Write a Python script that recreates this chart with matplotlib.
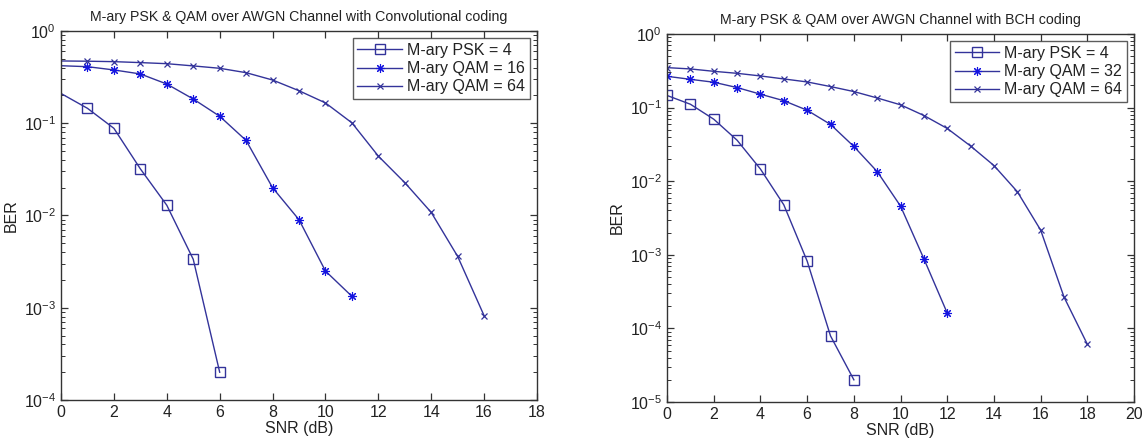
import numpy as np
import matplotlib
matplotlib.use("Agg")
import matplotlib.pyplot as plt
from matplotlib.ticker import LogLocator, NullFormatter, MultipleLocator

plt.rcParams['font.family'] = ['Liberation Sans', 'DejaVu Sans']
plt.rcParams['mathtext.fontset'] = 'custom'
plt.rcParams['mathtext.rm'] = 'Liberation Sans'

# convolutional coding
snr_conv_psk = [0, 1, 2, 3, 4, 5, 6]
ber_conv_psk = [0.21, 0.145, 0.088, 0.032, 0.0129, 0.00335, 0.0002]
snr_conv_qam16 = [0, 1, 2, 3, 4, 5, 6, 7, 8, 9, 10, 11]
ber_conv_qam16 = [0.42, 0.41, 0.378, 0.342, 0.266, 0.183, 0.119, 0.065,
                  0.020, 0.009, 0.0025, 0.00133]
snr_conv_qam64 = list(range(17))
ber_conv_qam64 = [0.473, 0.47, 0.465, 0.454, 0.442, 0.418, 0.394, 0.353,
                  0.294, 0.225, 0.166, 0.101, 0.044, 0.0227, 0.0108,
                  0.0036, 0.00082]

# BCH coding
snr_bch_psk = list(range(9))
ber_bch_psk = [0.146, 0.111, 0.0695, 0.036, 0.0146, 0.00477, 0.00082,
               7.9e-5, 2.0e-5]
snr_bch_qam32 = list(range(13))
ber_bch_qam32 = [0.266, 0.242, 0.221, 0.187, 0.152, 0.124, 0.092, 0.059,
                 0.0296, 0.0135, 0.00458, 0.00088, 0.000161]
snr_bch_qam64 = list(range(19))
ber_bch_qam64 = [0.349, 0.335, 0.311, 0.292, 0.269, 0.245, 0.223, 0.193,
                 0.165, 0.135, 0.109, 0.078, 0.052, 0.030, 0.0163, 0.0072,
                 0.00216, 0.000266, 6.07e-5]

line_col = '#33339a'
star_col = '#1414e0'
axis_col = '#333333'
asterisk = (8, 2, 0)

fig = plt.figure(figsize=(11.43, 4.43), dpi=100)
ax1 = fig.add_axes([0.0534, 0.0971, 0.4164, 0.833])
ax2 = fig.add_axes([0.5836, 0.0926, 0.4086, 0.8307])


def style_axes(ax, xmax, ymin, title):
    ax.set_yscale('log')
    ax.set_xlim(0, xmax)
    ax.set_ylim(ymin, 1)
    ax.xaxis.set_major_locator(MultipleLocator(2))
    ax.yaxis.set_major_locator(LogLocator(base=10, numticks=10))
    ax.yaxis.set_minor_locator(LogLocator(base=10, subs=np.arange(2, 10), numticks=20))
    ax.yaxis.set_minor_formatter(NullFormatter())
    ax.tick_params(which='both', direction='in', top=True, right=True,
                   colors=axis_col, labelcolor='#222222', labelsize=11.5)
    ax.tick_params(which='major', length=5, width=0.9)
    ax.tick_params(which='minor', length=3, width=0.7)
    for s in ax.spines.values():
        s.set_color(axis_col)
        s.set_linewidth(1.0)
    ax.set_title(title, fontsize=10.2, color='#222222', pad=7)
    ax.set_xlabel('SNR (dB)', fontsize=11.5, color='#222222', labelpad=1)
    ax.set_ylabel('BER', fontsize=11.5, color='#222222', labelpad=4)


# left: convolutional coding, markers at x = 0 fall outside the box
ax1.plot(snr_conv_psk, ber_conv_psk, color=line_col, lw=1.0, marker='s',
         ms=7, mfc='none', mec=line_col, mew=1.0, markevery=slice(1, None),
         label='M-ary PSK = 4')
ax1.plot(snr_conv_qam16, ber_conv_qam16, color=line_col, lw=1.0,
         marker=asterisk, ms=6.5, mec=star_col, mew=0.8,
         markevery=slice(1, None), label='M-ary QAM = 16')
ax1.plot(snr_conv_qam64, ber_conv_qam64, color=line_col, lw=1.0, marker='x',
         ms=4.5, mec=line_col, mew=0.9, markevery=slice(1, None),
         label='M-ary QAM = 64')
style_axes(ax1, 18, 1e-4,
           'M-ary PSK & QAM over AWGN Channel with Convolutional coding')

# right: BCH coding
ax2.plot(snr_bch_psk, ber_bch_psk, color=line_col, lw=1.0, marker='s',
         ms=7, mfc='none', mec=line_col, mew=1.0, label='M-ary PSK = 4')
ax2.plot(snr_bch_qam32, ber_bch_qam32, color=line_col, lw=1.0,
         marker=asterisk, ms=6.5, mec=star_col, mew=0.8, label='M-ary QAM = 32')
ax2.plot(snr_bch_qam64, ber_bch_qam64, color=line_col, lw=1.0, marker='x',
         ms=4.5, mec=line_col, mew=0.9, label='M-ary QAM = 64')
style_axes(ax2, 20, 1e-5,
           'M-ary PSK & QAM over AWGN Channel with BCH coding')

for ax in (ax1, ax2):
    leg = ax.legend(loc='upper right', fontsize=11.5, frameon=True, fancybox=False,
                    borderpad=0.3, labelspacing=0.2, handlelength=2.8,
                    handletextpad=0.3, borderaxespad=0.45)
    leg.get_frame().set_edgecolor(axis_col)
    leg.get_frame().set_linewidth(1.0)
    for t in leg.get_texts():
        t.set_color('#222222')

fig.savefig('out.png', dpi=100)
